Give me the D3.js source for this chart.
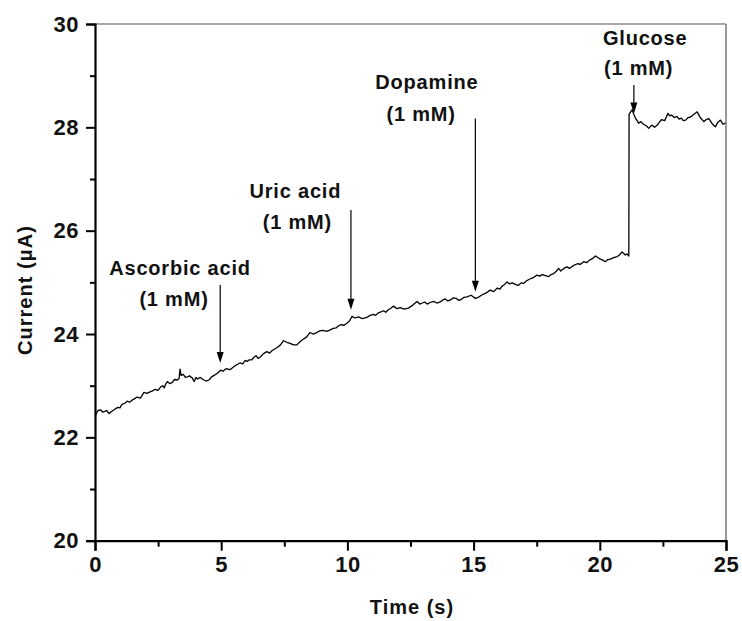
<!DOCTYPE html>
<html><head><meta charset="utf-8">
<script src="https://cdn.jsdelivr.net/npm/d3@7"></script>
<style>
html,body{margin:0;padding:0;background:#fff;}
svg text{font-family:"Liberation Sans",Arial,sans-serif;font-weight:bold;fill:#111;}
</style></head>
<body>
<svg id="c" width="742" height="621"></svg>
<script>
// Data (time in s, current in µA)
const time = [0.00,0.12,0.23,0.30,0.36,0.46,0.56,0.63,0.71,0.80,0.91,0.99,1.07,1.18,1.28,1.37,1.47,1.57,1.67,1.80,1.94,2.06,2.18,2.28,2.38,2.50,2.61,2.68,2.74,2.80,2.87,2.96,3.05,3.15,3.26,3.33,3.37,3.41,3.50,3.58,3.66,3.75,3.85,3.93,4.00,4.06,4.17,4.28,4.40,4.52,4.62,4.72,4.85,4.98,5.08,5.19,5.35,5.51,5.63,5.75,5.85,5.95,6.03,6.11,6.21,6.30,6.38,6.46,6.54,6.68,6.81,6.92,7.02,7.12,7.22,7.35,7.47,7.60,7.73,7.86,8.00,8.12,8.25,8.38,8.52,8.64,8.76,8.90,9.04,9.18,9.32,9.44,9.56,9.65,9.75,9.87,9.98,10.08,10.18,10.30,10.43,10.60,10.77,10.90,11.02,11.12,11.22,11.33,11.43,11.52,11.62,11.72,11.83,11.96,12.09,12.25,12.42,12.50,12.57,12.66,12.76,12.87,12.97,13.06,13.16,13.28,13.41,13.55,13.68,13.78,13.88,13.98,14.08,14.20,14.31,14.41,14.51,14.62,14.74,14.90,15.07,15.19,15.31,15.48,15.66,15.80,15.94,16.04,16.14,16.23,16.32,16.42,16.53,16.65,16.77,16.88,16.98,17.10,17.21,17.36,17.51,17.62,17.72,17.85,17.97,18.07,18.17,18.27,18.37,18.45,18.52,18.61,18.70,18.80,18.91,19.01,19.11,19.24,19.36,19.48,19.59,19.71,19.83,19.92,20.02,20.12,20.22,20.32,20.42,20.55,20.69,20.78,20.88,20.95,21.01,21.08,21.15,21.16,21.22,21.28,21.35,21.41,21.48,21.54,21.63,21.73,21.84,21.94,22.01,22.08,22.17,22.27,22.35,22.44,22.57,22.70,22.77,22.84,22.95,23.06,23.14,23.23,23.31,23.40,23.50,23.59,23.72,23.86,23.98,24.12,24.22,24.32,24.45,24.58,24.68,24.78,24.88,24.98];
const current = [22.41,22.52,22.53,22.49,22.50,22.52,22.46,22.49,22.52,22.55,22.58,22.57,22.64,22.66,22.70,22.68,22.72,22.75,22.78,22.76,22.87,22.85,22.88,22.90,22.93,22.91,22.98,23.00,22.96,23.03,23.08,23.04,23.06,23.12,23.11,23.14,23.32,23.20,23.22,23.16,23.17,23.19,23.15,23.08,23.16,23.13,23.16,23.12,23.09,23.11,23.17,23.20,23.24,23.30,23.28,23.33,23.31,23.37,23.41,23.44,23.42,23.49,23.47,23.50,23.50,23.55,23.58,23.53,23.55,23.62,23.66,23.63,23.68,23.71,23.74,23.79,23.87,23.84,23.82,23.79,23.79,23.85,23.90,23.94,24.03,24.00,24.02,24.06,24.07,24.05,24.08,24.11,24.12,24.16,24.18,24.17,24.21,24.25,24.34,24.31,24.33,24.30,24.32,24.36,24.38,24.36,24.41,24.43,24.45,24.42,24.47,24.50,24.54,24.49,24.51,24.48,24.50,24.53,24.55,24.59,24.63,24.58,24.60,24.62,24.58,24.61,24.63,24.60,24.62,24.66,24.68,24.64,24.66,24.70,24.69,24.65,24.67,24.71,24.72,24.75,24.69,24.71,24.75,24.79,24.85,24.82,24.89,24.87,24.93,24.96,25.01,24.97,24.99,24.96,24.94,24.99,24.98,25.03,25.06,25.09,25.14,25.12,25.15,25.13,25.11,25.15,25.17,25.21,25.27,25.22,25.25,25.28,25.30,25.27,25.31,25.34,25.36,25.35,25.40,25.38,25.43,25.46,25.51,25.48,25.45,25.43,25.40,25.44,25.45,25.48,25.50,25.53,25.59,25.56,25.53,25.55,25.51,28.25,28.30,28.34,28.25,28.18,28.13,28.08,28.11,28.06,28.03,27.98,28.02,28.04,28.00,28.04,28.09,28.15,28.13,28.27,28.22,28.24,28.19,28.21,28.16,28.18,28.13,28.14,28.19,28.20,28.25,28.30,28.19,28.11,28.15,28.17,28.07,28.01,28.10,28.14,28.06,28.08];

const xTicks = [0,5,10,15,20,25];
const xMinor = [2.5,7.5,12.5,17.5,22.5];
const yTicks = [20,22,24,26,28,30];
const yMinor = [21,23,25,27,29];

const arrowNames = ["Ascorbic acid","Uric acid","Dopamine","Glucose"];
const arrowConc = ["(1 mM)","(1 mM)","(1 mM)","(1 mM)"];
const arrowX = [4.96,10.14,15.07,21.35];
const arrowTop = [24.95,26.40,28.17,28.82];
const arrowTip = [23.44,24.47,24.82,28.27];
const label1X = [3.37,7.94,13.15,21.80];   // label centres (time units)
const label1Y = [25.14,26.63,28.74,29.59];
const label2X = [3.13,8.02,12.92,21.54];
const label2Y = [24.54,26.03,28.13,29.01];

const svg = d3.select("#c");
const x = d3.scaleLinear().domain([0,25]).range([95,726]);
const y = d3.scaleLinear().domain([20,30]).range([540.7,24]);

// frame top/right
svg.append("line").attr("x1",x(0)).attr("x2",x(25)).attr("y1",y(30)).attr("y2",y(30)).attr("stroke","#555").attr("stroke-width",1.2);
svg.append("line").attr("x1",x(25)).attr("x2",x(25)).attr("y1",y(30)).attr("y2",y(20)).attr("stroke","#555").attr("stroke-width",1.2);

// axes
const gx = svg.append("g").attr("transform",`translate(0,${y(20)})`);
gx.call(d3.axisBottom(x).tickValues(xTicks).tickSize(10).tickPadding(6).tickFormat(d3.format("d")));
gx.append("g").call(d3.axisBottom(x).tickValues(xMinor).tickSize(6).tickFormat(""));
const gy = svg.append("g").attr("transform",`translate(${x(0)},0)`);
gy.call(d3.axisLeft(y).tickValues(yTicks).tickSize(9).tickPadding(7).tickFormat(d3.format("d")));
gy.append("g").call(d3.axisLeft(y).tickValues(yMinor).tickSize(5).tickFormat(""));
svg.selectAll(".domain").attr("stroke","#000").attr("stroke-width",2.2);
svg.selectAll(".tick line").attr("stroke","#000").attr("stroke-width",2);
svg.selectAll("g g .domain").remove();
svg.selectAll(".tick text").style("font-size","22px").style("letter-spacing","0.5px").style("font-family","'Liberation Sans',Arial,sans-serif").style("font-weight","bold").attr("fill","#111");

// data line
const pts = time.map((t,i)=>[t,current[i]]);
svg.append("path").datum(pts)
  .attr("d", d3.line().x(d=>x(d[0])).y(d=>y(d[1])))
  .attr("fill","none").attr("stroke","#000").attr("stroke-width",1.3).attr("stroke-linejoin","round");

// arrows
arrowX.forEach((ax,i)=>{
  svg.append("line").attr("x1",x(ax)).attr("x2",x(ax)).attr("y1",y(arrowTop[i])).attr("y2",y(arrowTip[i])-4)
    .attr("stroke","#000").attr("stroke-width",1.2);
  svg.append("path").attr("d",`M${x(ax)-3.5},${y(arrowTip[i])-11} L${x(ax)+3.5},${y(arrowTip[i])-11} L${x(ax)},${y(arrowTip[i])} Z`).attr("fill","#000");
  svg.append("text").attr("x",x(label1X[i])).attr("y",y(label1Y[i])).attr("text-anchor","middle")
    .style("font-size","20px").style("letter-spacing","0.8px").text(arrowNames[i]);
  svg.append("text").attr("x",x(label2X[i])).attr("y",y(label2Y[i])).attr("text-anchor","middle")
    .style("font-size","20px").style("letter-spacing","0.8px").text(arrowConc[i]);
});

// axis titles
svg.append("text").attr("x",412).attr("y",614).attr("text-anchor","middle").style("font-size","20px").style("letter-spacing","1px").text("Time (s)");
svg.append("text").attr("transform","translate(32,290) rotate(-90)").attr("text-anchor","middle").style("font-size","20px").style("letter-spacing","1px").text("Current (μA)");
</script>
</body></html>
